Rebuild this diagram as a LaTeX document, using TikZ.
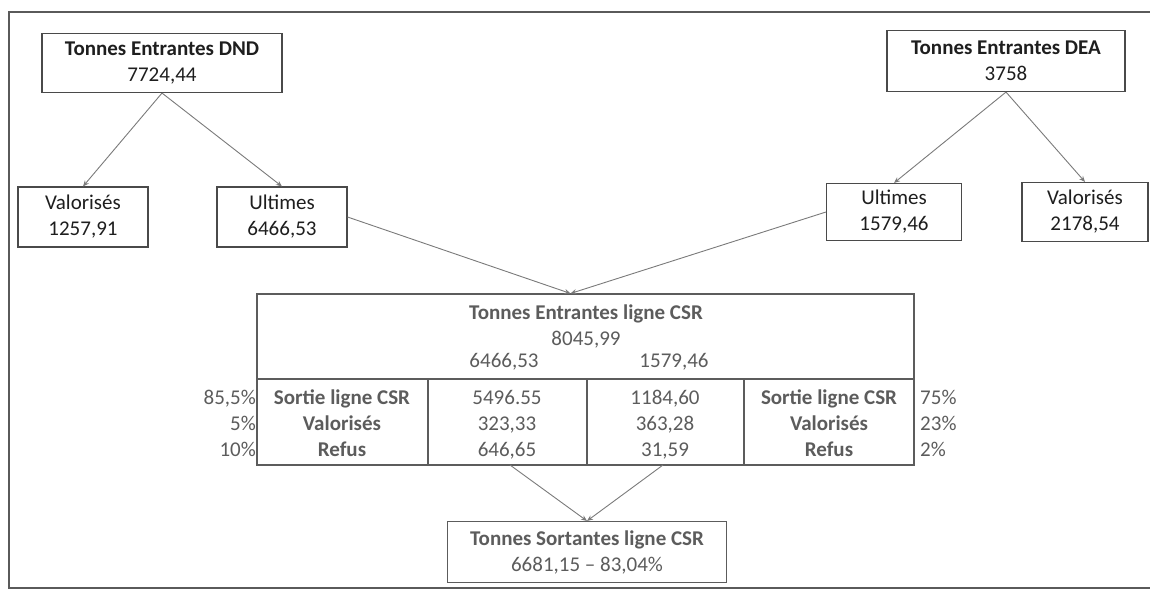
\documentclass[tikz,border=0pt]{standalone}
\usepackage{fontspec}
\setmainfont{Carlito}
\usetikzlibrary{arrows.meta}
\definecolor{framegray}{HTML}{5A5A5A}
\definecolor{boxgray}{HTML}{4A4A4A}
\definecolor{linegray}{HTML}{7A7A7A}
\definecolor{textdark}{HTML}{1E1E1E}
\definecolor{textgray}{HTML}{5C5C5C}
\tikzset{
    flowbox/.style={draw=boxgray, line width=1.1pt, fill=white, align=center,
        text=textdark, font=\fontsize{21}{26}\selectfont, inner sep=0pt},
    csrbox/.style={flowbox, draw=textgray, text=textgray},
    cellgray/.style={align=center, text=textgray, font=\fontsize{21}{26}\selectfont, inner sep=0pt},
    flow/.style={draw=linegray, line width=0.9pt, -{Stealth[length=6pt,width=5pt]}},
    tableline/.style={draw=textgray, line width=1.1pt},
}

\begin{document}
\begin{tikzpicture}[x=1pt, y=-1pt]

\useasboundingbox (0,0) rectangle (1150,590);
\draw[framegray, line width=1.4pt] (1160,12) -- (9,12) -- (9,588) -- (1160,588);

%% DND side
		\node[flowbox, minimum width=240pt, minimum height=59pt] (dnd) at (162,63) {\textbf{Tonnes Entrantes DND}\\7724,44};
		\node[flowbox, minimum width=130pt, minimum height=60pt] (valdnd) at (83,217) {Valorisés\\1257,91};
		\node[flowbox, minimum width=130pt, minimum height=60pt] (ultdnd) at (282,217) {Ultimes\\6466,53};
		\draw[flow] (dnd.south) -- (valdnd.north);
		\draw[flow] (dnd.south) -- (ultdnd.north);

%% DEA side
		\node[flowbox, minimum width=238pt, minimum height=61pt] (dea) at (1006,61) {\textbf{Tonnes Entrantes DEA}\\3758};
		\node[flowbox, minimum width=135pt, minimum height=57pt] (ultdea) at (894,212) {Ultimes\\1579,46};
		\node[flowbox, minimum width=126pt, minimum height=59pt] (valdea) at (1085,212) {Valorisés\\2178,54};
		\draw[flow] (dea.south) -- (ultdea.north);
		\draw[flow] (dea.south) -- (valdea.north);

%% ligne CSR
		\node[csrbox, minimum width=657pt, minimum height=171pt] (csr) at (585.5,379.5) {};
		\coordinate (csrin) at ([xshift=-15pt]csr.north);
		\draw[flow] (ultdnd.east) -- (csrin);
		\draw[flow] (ultdea.west) -- (csrin);

		\draw[tableline] (257,379) -- (914,379);
		\draw[tableline] (428,379) -- (428,465);
		\draw[tableline] (587,379) -- (587,465);
		\draw[tableline] (744,379) -- (744,465);

		\node[cellgray] (csrtitle) at (586,326) {\textbf{Tonnes Entrantes ligne CSR}\\8045,99};
		\node[cellgray] (indnd) at (504,362) {6466,53};
		\node[cellgray] (indea) at (674,362) {1579,46};

		\node[cellgray] (labdnd) at (342,425) {\strut\textbf{Sortie ligne CSR}\\\textbf{Valorisés}\\\textbf{Refus}\strut};
		\node[cellgray] (outdnd) at (507,425) {\strut 5496.55\\323,33\\646,65\strut};
		\node[cellgray] (outdea) at (665,425) {\strut 1184,60\\363,28\\31,59\strut};
		\node[cellgray] (labdea) at (829,425) {\strut\textbf{Sortie ligne CSR}\\\textbf{Valorisés}\\\textbf{Refus}\strut};
		\node[cellgray, anchor=east, align=right] (pctdnd) at (256,425) {\strut 85,5\%\\5\%\\10\%\strut};
		\node[cellgray, anchor=west, align=left] (pctdea) at (920,425) {\strut 75\%\\23\%\\2\%\strut};

%% sortie
		\node[csrbox, minimum width=279pt, minimum height=61pt] (sortie) at (587,552) {\textbf{Tonnes Sortantes ligne CSR}\\6681,15 -- 83,04\%};
		\coordinate (csroutdnd) at (510,465);
		\coordinate (csroutdea) at (663,465);
		\draw[flow] (csroutdnd) -- (sortie.north);
		\draw[flow] (csroutdea) -- (sortie.north);

\end{tikzpicture}
\end{document}
